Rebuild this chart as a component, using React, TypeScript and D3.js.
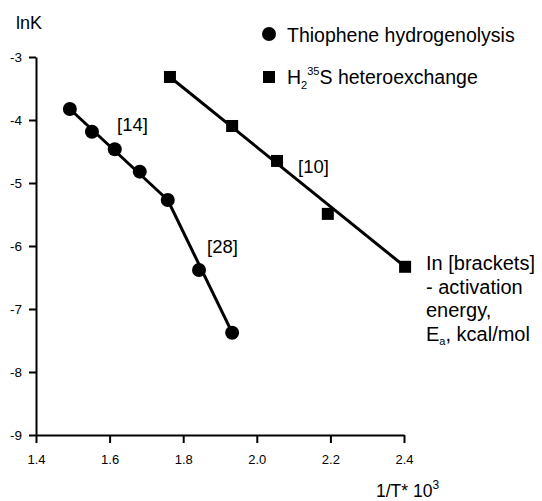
import { useEffect, useRef } from 'react';
import * as d3 from 'd3';

// Thiophene hydrogenolysis (circles)
const thioX = [1.492, 1.552, 1.614, 1.682, 1.758, 1.843, 1.933];
const thioY = [-3.825, -4.186, -4.465, -4.82, -5.27, -6.38, -7.376];
// H2 35S heteroexchange (squares)
const exchX = [1.764, 1.933, 2.055, 2.193, 2.403];
const exchY = [-3.317, -4.095, -4.65, -5.49, -6.33];

const xTicks = [1.4, 1.6, 1.8, 2.0, 2.2, 2.4];
const yTicks = [-3, -4, -5, -6, -7, -8, -9];

const noteLines = ['In [brackets]', '- activation', 'energy,'];

const FONT = "'Liberation Sans', Arial, sans-serif";

const App = () => {
  const svgRef = useRef<SVGSVGElement>(null);

  useEffect(() => {
    const svg = d3.select(svgRef.current);
    svg.selectAll('*').remove();

    const x = d3.scaleLinear().domain([1.4, 2.4]).range([36, 404]);
    const y = d3.scaleLinear().domain([-9, -3]).range([435, 57]);

    const g = svg.append('g').style('font-family', FONT);

    // axes
    const xAxis = g.append('g')
      .attr('transform', `translate(0,${y(-9)})`)
      .call(d3.axisBottom(x).tickValues(xTicks).tickFormat(d3.format('.1f')).tickSize(8).tickSizeOuter(0));
    xAxis.select('.domain').attr('stroke', '#000').attr('stroke-width', 2);
    xAxis.selectAll('.tick line').attr('stroke', '#000').attr('stroke-width', 2);
    xAxis.selectAll('.tick text').attr('dy', '1.35em').style('font-size', '13px').style('font-family', FONT);

    const yAxis = g.append('g')
      .attr('transform', `translate(${x(1.4)},0)`)
      .call(d3.axisLeft(y).tickValues(yTicks).tickFormat(d => String(d)).tickSize(7).tickSizeOuter(0));
    yAxis.select('.domain').attr('stroke', '#000').attr('stroke-width', 2);
    yAxis.selectAll('.tick line').attr('stroke', '#000').attr('stroke-width', 2);
    yAxis.selectAll('.tick text').attr('x', -14).style('font-size', '13.5px').style('font-family', FONT);

    const line = d3.line<[number, number]>().x(d => x(d[0])).y(d => y(d[1]));

    // thiophene: two straight segments, break at 5th point
    const tp: [number, number][] = thioX.map((v, i) => [v, thioY[i]]);
    g.append('path').datum([tp[0], tp[4]]).attr('d', line).attr('stroke', '#000').attr('stroke-width', 3).attr('fill', 'none');
    g.append('path').datum([tp[4], tp[6]]).attr('d', line).attr('stroke', '#000').attr('stroke-width', 3).attr('fill', 'none');

    // exchange: straight line first to last
    const ep: [number, number][] = exchX.map((v, i) => [v, exchY[i]]);
    g.append('path').datum([ep[0], ep[ep.length - 1]]).attr('d', line).attr('stroke', '#000').attr('stroke-width', 3).attr('fill', 'none');

    g.selectAll('circle.pt').data(tp).enter().append('circle')
      .attr('cx', d => x(d[0])).attr('cy', d => y(d[1])).attr('r', 7).attr('fill', '#000');

    g.selectAll('rect.pt').data(ep).enter().append('rect')
      .attr('x', d => x(d[0]) - 6).attr('y', d => y(d[1]) - 6).attr('width', 12).attr('height', 12).attr('fill', '#000');

    // annotations
    const txt = (tx: number, ty: number, s: string, size = 18.5) =>
      g.append('text').attr('x', tx).attr('y', ty).attr('dominant-baseline', 'central')
        .style('font-size', `${size}px`).text(s);

    txt(117, 124, '[14]');
    txt(207, 246, '[28]');
    txt(298, 166, '[10]');

    // axis titles
    txt(16, 23, 'lnK', 18);
    const xt = g.append('text').attr('x', 376).attr('y', 497).style('font-size', '17.5px');
    xt.append('tspan').text('1/T* 10');
    xt.append('tspan').attr('dy', -8).style('font-size', '12px').text('3');

    // legend
    g.append('circle').attr('cx', 269).attr('cy', 34).attr('r', 7).attr('fill', '#000');
    txt(287, 35, 'Thiophene hydrogenolysis', 19.5);
    g.append('rect').attr('x', 263).attr('y', 71).attr('width', 12).attr('height', 12).attr('fill', '#000');
    const lt = g.append('text').attr('x', 287).attr('y', 84).style('font-size', '19.5px');
    lt.append('tspan').text('H');
    lt.append('tspan').attr('dy', 5).style('font-size', '11px').text('2');
    lt.append('tspan').attr('dy', -14).style('font-size', '11px').text('35');
    lt.append('tspan').attr('dy', 9).text('S heteroexchange');

    // note
    noteLines.forEach((s, i) => txt(426, 263 + i * 23.5, s, 20));
    const nt = g.append('text').attr('x', 426).attr('y', 333.5 + 7).style('font-size', '20px');
    nt.append('tspan').text('E');
    nt.append('tspan').attr('dy', 4).style('font-size', '11px').text('a');
    nt.append('tspan').attr('dy', -4).text(', kcal/mol');
  }, []);

  return (
    <div style={{ position: 'absolute', left: 0, top: 0 }}>
      <svg ref={svgRef} width={542} height={501} style={{ background: '#fff', display: 'block' }} />
    </div>
  );
};

export default App;
